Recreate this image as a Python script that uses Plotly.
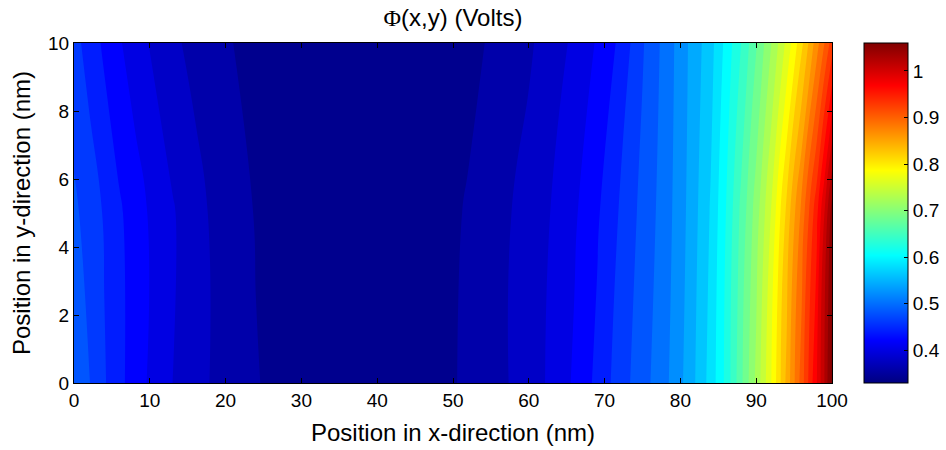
import plotly.graph_objects as go

# ---- data ----
x_nm = [0, 2, 4, 6, 8, 10, 13, 16, 20, 24, 28, 32, 36, 40, 44, 48, 52, 56, 60,
        63, 66, 69, 72, 75, 78, 81, 84, 86, 88, 90, 92, 94, 96, 98, 99, 100]
y_nm = [0, 5, 10]

phi_y0 = [0.480, 0.471, 0.452, 0.435, 0.421, 0.407, 0.390, 0.377, 0.362, 0.351,
          0.344, 0.339, 0.336, 0.335, 0.337, 0.343, 0.354, 0.365, 0.380, 0.394,
          0.413, 0.435, 0.460, 0.482, 0.505, 0.537, 0.578, 0.615, 0.665, 0.715,
          0.770, 0.835, 0.900, 0.970, 1.010, 1.060]
phi_y5 = [0.474, 0.462, 0.448, 0.433, 0.420, 0.408, 0.392, 0.377, 0.360, 0.349,
          0.342, 0.338, 0.335, 0.334, 0.336, 0.342, 0.352, 0.364, 0.378, 0.391,
          0.407, 0.427, 0.452, 0.476, 0.500, 0.533, 0.572, 0.610, 0.655, 0.700,
          0.752, 0.815, 0.877, 0.945, 0.990, 1.040]
phi_y10 = [0.457, 0.442, 0.426, 0.412, 0.400, 0.389, 0.374, 0.364, 0.352, 0.344,
           0.339, 0.336, 0.334, 0.333, 0.334, 0.337, 0.344, 0.355, 0.367, 0.380,
           0.394, 0.412, 0.434, 0.468, 0.497, 0.530, 0.563, 0.596, 0.630, 0.668,
           0.710, 0.755, 0.805, 0.862, 0.890, 0.920]

x_ticks = [0, 10, 20, 30, 40, 50, 60, 70, 80, 90, 100]
y_ticks = [0, 2, 4, 6, 8, 10]
cbar_tickvals = [0.4, 0.5, 0.6, 0.7, 0.8, 0.9, 1.0]
cbar_ticktext = ["0.4", "0.5", "0.6", "0.7", "0.8", "0.9", "1"]

z_min, z_max = 0.33, 1.06

jet = [[0.0, "rgb(0,0,128)"], [0.125, "rgb(0,0,255)"], [0.375, "rgb(0,255,255)"],
       [0.625, "rgb(255,255,0)"], [0.875, "rgb(255,0,0)"], [1.0, "rgb(128,0,0)"]]

FONT = "Liberation Sans, Arial, sans-serif"

fig = go.Figure()
fig.add_trace(go.Contour(
    x=x_nm, y=y_nm, z=[phi_y0, phi_y5, phi_y10],
    colorscale=jet, zmin=z_min, zmax=z_max,
    contours=dict(start=0.33, end=1.07, size=0.02, coloring="fill", showlines=False),
    line=dict(width=0, smoothing=1.3),
    showscale=False,
    hoverinfo="skip",
))

# continuous colour bar (the trace itself lies outside the visible x range)
fig.add_trace(go.Heatmap(
    x=[-20, -10], y=[0, 10], z=[[z_min, z_max], [z_min, z_max]],
    colorscale=jet, zmin=z_min, zmax=z_max, hoverinfo="skip",
    colorbar=dict(
        xref="container", x=864 / 946, xanchor="left", xpad=0,
        y=0.5, yanchor="middle", ypad=0,
        len=1.0, lenmode="fraction",
        thickness=44, thicknessmode="pixels",
        outlinecolor="black", outlinewidth=1,
        tickmode="array", tickvals=cbar_tickvals, ticktext=cbar_ticktext,
        ticks="inside", ticklen=4, tickcolor="black",
        tickfont=dict(family=FONT, size=19, color="black"),
    ),
))

axis_common = dict(
    showline=True, linecolor="black", linewidth=1, mirror="ticks",
    ticks="inside", ticklen=5, tickcolor="black",
    showgrid=False, zeroline=False, automargin=False,
    tickfont=dict(family=FONT, size=19, color="black"),
)

fig.update_layout(
    width=946, height=450,
    margin=dict(l=74, r=114, t=43, b=67),
    paper_bgcolor="white", plot_bgcolor="white",
    title=dict(
        text="<span style=\"font-family:'Liberation Serif'\">Φ</span>(x,y) (Volts)",
        x=0.5, xref="paper", xanchor="center", y=0.96, yanchor="middle",
        font=dict(family=FONT, size=24, color="black"),
    ),
    xaxis=dict(range=[0, 100], tickmode="array", tickvals=x_ticks,
               title=dict(text="Position in x-direction (nm)", standoff=14,
                          font=dict(family=FONT, size=24, color="black")),
               **axis_common),
    yaxis=dict(range=[0, 10], tickmode="array", tickvals=y_ticks,
               title=dict(text="Position in y-direction (nm)", standoff=10,
                          font=dict(family=FONT, size=24, color="black")),
               **axis_common),
)

fig.write_html("out.html")
